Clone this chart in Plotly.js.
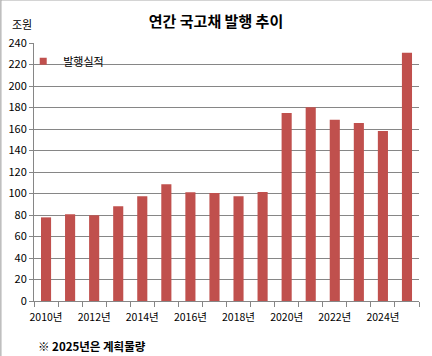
<!DOCTYPE html>
<html><head><meta charset="utf-8">
<script src="https://cdn.plot.ly/plotly-3.0.1.min.js"></script>
<style>html,body{margin:0;padding:0;background:#fff}#c{width:432px;height:356px}</style>
</head><body><div id="c"></div>
<script>
const years = [2010,2011,2012,2013,2014,2015,2016,2017,2018,2019,2020,2021,2022,2023,2024,2025];
const issuance = [77.8,80.6,79.7,88.1,97.4,108.6,101.2,100.4,97.4,101.5,174.8,180.3,168.5,165.5,158.2,230.9];
const tickYears = [2010,2012,2014,2016,2018,2020,2022,2024];
const tickLabels = ['2010년','2012년','2014년','2016년','2018년','2020년','2022년','2024년'];
const seriesName = '발행실적';
const FONT = '"Noto Sans CJK KR", "Noto Sans", sans-serif';
const RED = '#C0504D';

Plotly.newPlot('c', [{
  type: 'bar', x: years, y: issuance, name: seriesName, legendgroup: 'a',
  marker: {color: RED}, width: 0.42, showlegend: false
}, {
  type: 'scatter', mode: 'markers', x: [null], y: [null], name: seriesName, legendgroup: 'a',
  marker: {color: RED, symbol: 'square', size: 7}, showlegend: true, hoverinfo: 'skip'
}], {
  width: 432, height: 356,
  margin: {l: 34, r: 13, t: 43, b: 55},
  paper_bgcolor: '#fff', plot_bgcolor: '#fff',
  font: {family: FONT, size: 11, color: '#000'},
  title: {text: '<b>연간 국고채 발행 추이</b>', x: 0.5, xanchor: 'center', y: 0.94, yanchor: 'middle', font: {size: 15, family: FONT, color: '#000'}},
  xaxis: {
    range: [2009.5, 2025.5], tickmode: 'array', tickvals: tickYears, ticktext: tickLabels,
    ticks: '', showgrid: false, zeroline: false, showline: true, linecolor: '#868686', linewidth: 1,
    tickfont: {size: 10.5, family: FONT}, ticklabelstandoff: 6,
    minor: {tick0: 2009.5, dtick: 1, ticks: 'outside', ticklen: 5, tickcolor: '#868686', tickwidth: 1, showgrid: false}
  },
  yaxis: {
    range: [0, 240], dtick: 20, showgrid: true, gridcolor: '#868686', gridwidth: 1,
    zeroline: false, showline: true, linecolor: '#868686', linewidth: 1,
    ticks: 'outside', ticklen: 4, tickcolor: '#868686', tickfont: {size: 11, family: FONT}
  },
  legend: {x: -0.028, y: 0.985, xanchor: 'left', yanchor: 'top', bgcolor: 'rgba(0,0,0,0)', font: {size: 11, family: FONT}, itemwidth: 30},
  annotations: [
    {text: '조원', xref: 'paper', yref: 'paper', x: -0.062, y: 1.072, xanchor: 'left', yanchor: 'middle', showarrow: false, font: {size: 11, family: FONT}},
    {text: '<b>※ 2025년은 계획물량</b>', xref: 'paper', yref: 'paper', x: 0.005, y: -0.175, xanchor: 'left', yanchor: 'middle', showarrow: false, font: {size: 11.5, family: FONT}}
  ],
  shapes: [
    {type: 'line', xref: 'paper', yref: 'paper', x0: -0.086, x1: -0.086, y0: -0.215, y1: 1.167, line: {color: '#999', width: 1}},
    {type: 'line', xref: 'paper', yref: 'paper', x0: -0.086, x1: 1.034, y0: 1.167, y1: 1.167, line: {color: '#999', width: 1}}
  ]
}, {displayModeBar: false});
</script></body></html>
